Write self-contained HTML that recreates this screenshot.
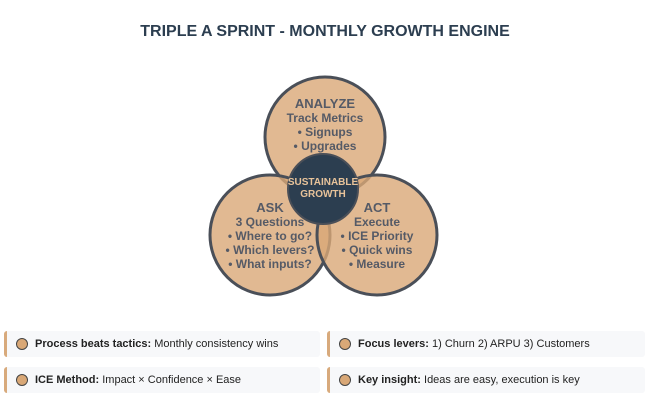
<!DOCTYPE html>
<html><head><meta charset="utf-8"><style>
body{margin:0;width:650px;height:401px;background:#fff;font-family:"Liberation Sans",sans-serif;position:relative;overflow:hidden}
.t{position:absolute;top:23px;left:0;width:650px;text-align:center;font-weight:bold;font-size:16px;color:#2c3e50}
.c{position:absolute;height:26px;background:#f7f8fa;border-left:3px solid #d8aa7c;border-radius:3px;font-size:11px;color:#222;line-height:26px;box-sizing:border-box;padding-left:28px}
.c:before{content:"";position:absolute;left:9px;top:7px;width:10px;height:10px;border-radius:50%;background:#d9a877;border:1.5px solid #444}
</style></head><body>
<div class="t">TRIPLE A SPRINT - MONTHLY GROWTH ENGINE</div>
<svg width="650" height="401" style="position:absolute;left:0;top:0">
<g fill="#d9a877" fill-opacity="0.8" stroke="#4a4f58" stroke-width="3">
<circle cx="325" cy="137" r="60"/>
<circle cx="270" cy="235" r="60"/>
<circle cx="377" cy="235" r="60"/>
</g>
<circle cx="323" cy="189" r="35" fill="#2c3e50" stroke="#4a4f58" stroke-width="2"/>
<g font-family="Liberation Sans,sans-serif" font-weight="bold" fill="#555a66" text-anchor="middle" font-size="12">
<text x="325" y="108" font-size="13">ANALYZE</text>
<text x="325" y="122">Track Metrics</text>
<text x="325" y="136">• Signups</text>
<text x="325" y="150">• Upgrades</text>
<text x="270" y="212" font-size="13">ASK</text>
<text x="270" y="226">3 Questions</text>
<text x="270" y="240">• Where to go?</text>
<text x="270" y="254">• Which levers?</text>
<text x="270" y="268">• What inputs?</text>
<text x="377" y="212" font-size="13">ACT</text>
<text x="377" y="226">Execute</text>
<text x="377" y="240">• ICE Priority</text>
<text x="377" y="254">• Quick wins</text>
<text x="377" y="268">• Measure</text>
<text x="323" y="185" font-size="10" fill="#e8c39a">SUSTAINABLE</text>
<text x="323" y="197" font-size="10" fill="#e8c39a">GROWTH</text>
</g>
</svg>
<div class="c" style="left:4px;top:331px;width:316px"><b>Process beats tactics:</b> Monthly consistency wins</div>
<div class="c" style="left:4px;top:367px;width:316px"><b>ICE Method:</b> Impact × Confidence × Ease</div>
<div class="c" style="left:327px;top:331px;width:318px"><b>Focus levers:</b> 1) Churn 2) ARPU 3) Customers</div>
<div class="c" style="left:327px;top:367px;width:318px"><b>Key insight:</b> Ideas are easy, execution is key</div>
</body></html>
